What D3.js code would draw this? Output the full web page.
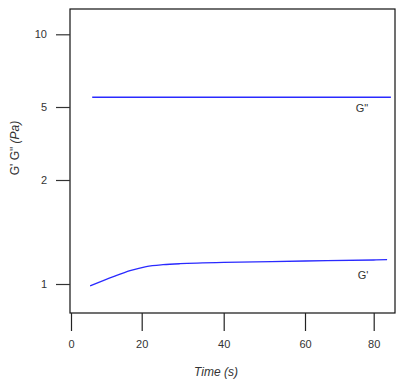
<!DOCTYPE html>
<html><head><meta charset="utf-8">
<script src="https://cdn.jsdelivr.net/npm/d3@7/dist/d3.min.js"></script>
<style>body{margin:0;background:#fff}svg{display:block}text{font-family:"Liberation Sans",Arial,sans-serif}</style>
</head><body>
<svg id="c" width="400" height="380"></svg>
<script>
const xTicks = [0, 20, 40, 60, 80];
const yTicks = [1, 2, 5, 10];
const gppTime = [6, 85];
const gppValue = [5.67, 5.67];
const gpTime = [5.4, 12.0, 16.7, 21.1, 25.2, 29.3, 40, 60, 80, 83.9];
const gpValue = [0.981, 1.070, 1.128, 1.168, 1.186, 1.195, 1.207, 1.221, 1.231, 1.234];
const seriesLabels = ["G'", "G\""];

const svg = d3.select("#c");
const box = {left: 70, right: 395, top: 9, bottom: 313};

const x = d3.scaleLinear().domain(xTicks).range([71, 141.7, 223.7, 305, 373.7]);
const y = d3.scaleLinear().domain(yTicks).range([284, 180, 107, 34.3]);

// frame
svg.append("rect").attr("x", box.left).attr("y", box.top)
  .attr("width", box.right - box.left).attr("height", box.bottom - box.top)
  .attr("fill", "none").attr("stroke", "#111").attr("stroke-width", 1.2);

// y axis
const yAxis = svg.append("g").attr("transform", `translate(${box.left},0)`)
  .call(d3.axisLeft(y).tickValues(yTicks).tickSize(14).tickPadding(9).tickFormat(d3.format("d")));
yAxis.select(".domain").remove();
yAxis.selectAll("line").attr("stroke", "#333").attr("stroke-width", 1.2);
yAxis.selectAll("text").attr("font-size", 11).attr("fill", "#333").attr("font-family", "Liberation Sans, Arial, sans-serif");

// x axis
const xAxis = svg.append("g").attr("transform", `translate(0,${box.bottom})`)
  .call(d3.axisBottom(x).tickValues(xTicks).tickSize(18).tickPadding(9).tickFormat(d3.format("d")));
xAxis.select(".domain").remove();
xAxis.selectAll("line").attr("stroke", "#222").attr("stroke-width", 1.2);
xAxis.selectAll("text").attr("font-size", 11).attr("fill", "#333").attr("font-family", "Liberation Sans, Arial, sans-serif");

// titles
svg.append("text").attr("x", 216).attr("y", 376).attr("text-anchor", "middle")
  .attr("font-size", 12).attr("font-style", "italic").attr("fill", "#333").text("Time (s)");
const yt = svg.append("text").attr("transform", "translate(19,148) rotate(-90)")
  .attr("text-anchor", "middle").attr("font-size", 12).attr("fill", "#333");
yt.append("tspan").text("G'  G\"  ");
yt.append("tspan").attr("font-style", "italic").text("(Pa)");

// lines
const line = d3.line().x(d => x(d[0])).y(d => y(d[1])).curve(d3.curveCatmullRom);
svg.append("path").datum(gppTime.map((t, i) => [t, gppValue[i]]))
  .attr("d", line).attr("fill", "none").attr("stroke", "#2a2aff").attr("stroke-width", 1.3);
svg.append("path").datum(gpTime.map((t, i) => [t, gpValue[i]]))
  .attr("d", line).attr("fill", "none").attr("stroke", "#2a2aff").attr("stroke-width", 1.3);

// labels
svg.append("text").attr("x", x(80) - 16).attr("y", y(gpValue[gpValue.length - 1]) + 19)
  .attr("font-size", 11).attr("fill", "#333").text(seriesLabels[0]);
svg.append("text").attr("x", x(80) - 18).attr("y", y(gppValue[1]) + 15)
  .attr("font-size", 11).attr("fill", "#333").text(seriesLabels[1]);
</script>
</body></html>
